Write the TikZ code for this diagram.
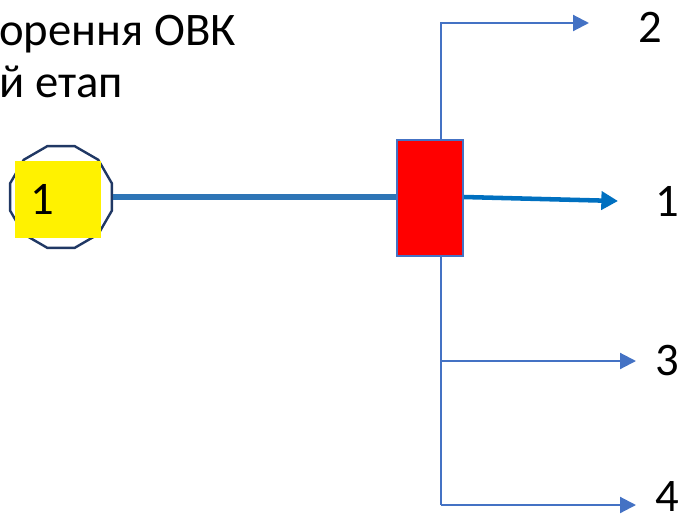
\documentclass[tikz,border=0pt]{standalone}
\usepackage{fontspec}
\setmainfont{Carlito}
\usetikzlibrary{arrows.meta,shapes.geometric,calc}

\definecolor{linkblue}{HTML}{4472C4}
\definecolor{mainblue}{HTML}{2E75B6}
\definecolor{outblue}{HTML}{0070C0}
\definecolor{rimnavy}{HTML}{203864}

\tikzset{
    px/.style={x=0.75pt,y=-0.75pt},
    bigtext/.style={font=\fontsize{35}{40}\selectfont,inner sep=0pt},
    branch/.style={draw=linkblue,line width=1.6pt,-{Triangle[length=12pt,width=12pt]}},
}

\begin{document}
\begin{tikzpicture}[px]
        \useasboundingbox (0,0) rectangle (682,515);
        % title, cut at the left edge
        \node[bigtext,anchor=base west] (title1) at (-1,45) {орення ОВК};
        \node[bigtext,anchor=base west] (title2) at (-1,97) {й етап};
        % source
        \node[regular polygon,regular polygon sides=12,draw=rimnavy,line width=1.8pt,
              minimum size=79pt,inner sep=0pt] (src) at (61,197) {};
        \node[fill=yellow,bigtext,minimum height=57.75pt,inner xsep=12pt,
              text width=40.5pt,align=left] (srclabel) at (58,199.5) {1};
        % separator
        \node[fill=red,draw=linkblue,line width=1.2pt,minimum width=49.5pt,
              minimum height=87pt,inner sep=0pt] (sep) at (430,198) {};
        \draw[mainblue,line width=4pt] (src.east) -- (src.east -| sep.west);
        % outlets
        \node[bigtext] (out2) at (650,27) {2};
        \node[bigtext] (out1) at (667,201) {1};
        \node[bigtext] (out3) at (667,361) {3};
        \node[bigtext] (out4) at (667,497) {4};
        \coordinate (top) at (441,23);
        \coordinate (mid) at (441,361);
        \coordinate (low) at (441,505);
        \coordinate (e1) at (618,201);
        \coordinate (e2) at (589,23);
        \coordinate (e3) at (636,361);
        \coordinate (e4) at (636,505);
        \draw[outblue,line width=3.4pt,-{Triangle[length=12.5pt,width=13.5pt]}]
            (sep.east |- src.east) -- (e1);
        \draw[branch] (sep.north -| top) -- (top) -- (e2);
        \draw[draw=linkblue,line width=1.6pt] (sep.south -| mid) -- (low);
        \draw[branch] (mid) -- (e3);
        \draw[branch] (low) -- (e4);
    \end{tikzpicture}
\end{document}
